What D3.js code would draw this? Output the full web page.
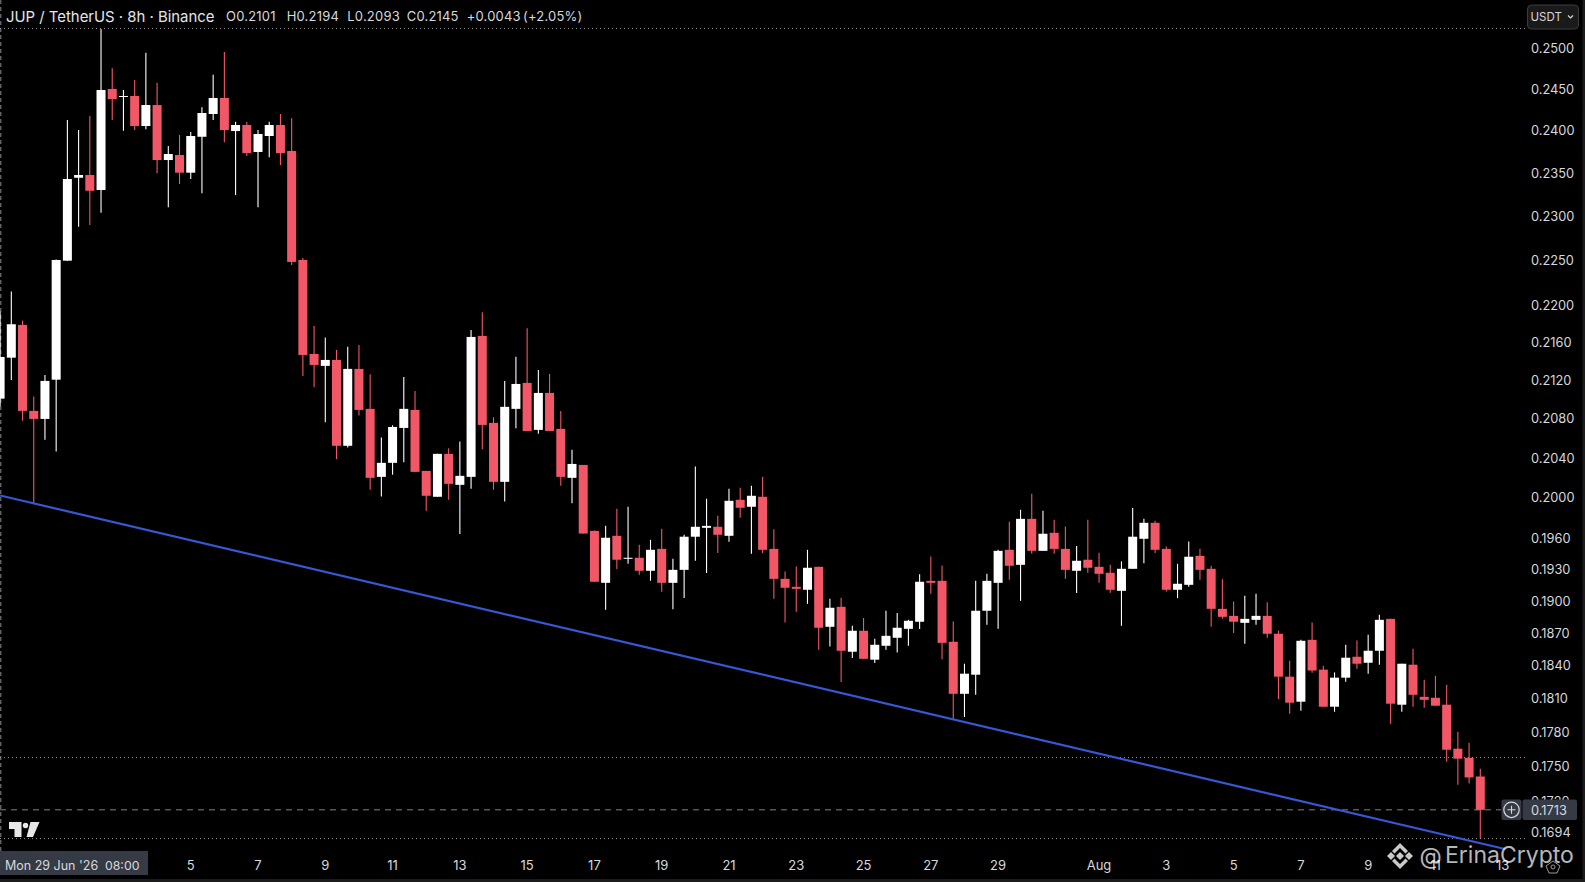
<!DOCTYPE html>
<html>
<head>
<meta charset="utf-8">
<title>JUP / TetherUS 8h</title>
<script src="https://cdn.jsdelivr.net/npm/d3@7"></script>
<style>
	html, body { margin: 0; padding: 0; background: #000; overflow: hidden; }
	svg { display: block; }
	text { font-family: Inter, Roboto, sans-serif; }
</style>
</head>
<body>
<div class="svg-container"></div>
<script>
(function () {

	"use strict";

	// candles, one per 8h
	var opens = [
		0.2101, 0.21442, 0.21794, 0.20883, 0.208, 0.21209, 0.225, 0.23446, 0.23478, 0.23304,
		0.24502, 0.24405, 0.24417, 0.24056, 0.24308, 0.23653, 0.23712, 0.23505, 0.23928, 0.242,
		0.24393, 0.23996, 0.24068, 0.23748, 0.23937, 0.24068, 0.2376, 0.22508, 0.21482, 0.21355,
		0.21418, 0.20524, 0.21323, 0.20904, 0.2021, 0.20351, 0.20707, 0.20893, 0.2027, 0.20011,
		0.20442, 0.2013, 0.2021, 0.21675, 0.20759, 0.2016, 0.20904, 0.21175, 0.20687, 0.2107,
		0.20697, 0.202, 0.2033, 0.19675, 0.19174, 0.19627, 0.19404, 0.19414, 0.19289, 0.195,
		0.19174, 0.19298, 0.19618, 0.19705, 0.19715, 0.19627, 0.19981, 0.19912, 0.20011, 0.195,
		0.19212, 0.19136, 0.19108, 0.19327, 0.1876, 0.18947, 0.18529, 0.18723, 0.18456, 0.18584,
		0.18658, 0.18741, 0.18807, 0.19193, 0.19193, 0.18621, 0.18146, 0.18319, 0.1891, 0.19174,
		0.19491, 0.19346, 0.19793, 0.19481, 0.19656, 0.195, 0.19289, 0.19395, 0.19327, 0.1927,
		0.19098, 0.19308, 0.19598, 0.19754, 0.195, 0.19108, 0.19155, 0.19433, 0.19308, 0.18928,
		0.18862, 0.18797, 0.18825, 0.18862, 0.18695, 0.18301, 0.18075, 0.18639, 0.18365, 0.1803,
		0.18292, 0.18483, 0.18428, 0.18538, 0.18834, 0.18048, 0.1841, 0.18119, 0.1811, 0.18048,
		0.17658, 0.17579, 0.17416
	];
	var highs = [
		0.2194, 0.22157, 0.2184, 0.21032, 0.21259, 0.22514, 0.24128, 0.24008, 0.24176, 0.25244,
		0.24755, 0.2449, 0.24612, 0.24948, 0.24579, 0.23819, 0.23949, 0.23984, 0.2428, 0.24676,
		0.24957, 0.24108, 0.24104, 0.24008, 0.24108, 0.242, 0.24148, 0.22531, 0.21783, 0.21657,
		0.21525, 0.2156, 0.21578, 0.21267, 0.20608, 0.20735, 0.21238, 0.21091, 0.2027, 0.20442,
		0.205, 0.20567, 0.2174, 0.21932, 0.20817, 0.21196, 0.21453, 0.21758, 0.21312, 0.2127,
		0.20883, 0.20483, 0.2033, 0.19678, 0.19724, 0.19892, 0.19912, 0.19539, 0.19588, 0.19695,
		0.19404, 0.19637, 0.20313, 0.19991, 0.19823, 0.2009, 0.201, 0.2012, 0.2021, 0.19692,
		0.19282, 0.1933, 0.19491, 0.19327, 0.19022, 0.19032, 0.18769, 0.18841, 0.18648, 0.1891,
		0.18888, 0.18825, 0.19257, 0.19426, 0.1934, 0.18809, 0.18419, 0.19193, 0.1926, 0.19491,
		0.19764, 0.19882, 0.2004, 0.19872, 0.19783, 0.19718, 0.19529, 0.19783, 0.19462, 0.19346,
		0.19379, 0.19899, 0.19793, 0.19774, 0.19523, 0.19356, 0.19572, 0.195, 0.19337, 0.19209,
		0.18997, 0.19051, 0.1907, 0.18991, 0.18725, 0.18446, 0.18639, 0.188, 0.18401, 0.1834,
		0.18593, 0.18633, 0.18686, 0.18872, 0.18834, 0.18419, 0.18556, 0.18273, 0.1831, 0.18228,
		0.17808, 0.17711, 0.17484
	];
	var lows = [
		0.2093, 0.21206, 0.20782, 0.19948, 0.20585, 0.20465, 0.22497, 0.22883, 0.22902, 0.23043,
		0.24128, 0.24, 0.24008, 0.24016, 0.23498, 0.23105, 0.23373, 0.23431, 0.23265, 0.24128,
		0.23862, 0.23246, 0.23701, 0.23105, 0.23685, 0.23595, 0.22452, 0.21249, 0.2113, 0.20766,
		0.20388, 0.20506, 0.20834, 0.2008, 0.20014, 0.2023, 0.20358, 0.2026, 0.19872, 0.20011,
		0.19981, 0.19644, 0.2009, 0.2049, 0.2008, 0.19964, 0.20704, 0.20676, 0.20646, 0.20676,
		0.2012, 0.19948, 0.19649, 0.19184, 0.18919, 0.19305, 0.19356, 0.19251, 0.19193, 0.19089,
		0.18925, 0.19029, 0.19385, 0.19267, 0.19459, 0.19569, 0.19803, 0.19452, 0.19459, 0.19022,
		0.188, 0.189, 0.18975, 0.18547, 0.18578, 0.18252, 0.18471, 0.18464, 0.18426, 0.18547,
		0.18522, 0.18584, 0.18739, 0.1907, 0.18461, 0.1792, 0.17938, 0.18137, 0.18778, 0.18741,
		0.19203, 0.19003, 0.19452, 0.19481, 0.19452, 0.19212, 0.19077, 0.1927, 0.19174, 0.19079,
		0.18769, 0.19308, 0.19362, 0.19459, 0.19092, 0.19029, 0.19136, 0.19203, 0.1876, 0.18834,
		0.18702, 0.18602, 0.18778, 0.18658, 0.18099, 0.17967, 0.17994, 0.18336, 0.1803, 0.17985,
		0.18255, 0.18373, 0.18328, 0.1841, 0.17878, 0.17985, 0.1803, 0.18021, 0.18039, 0.17545,
		0.17345, 0.17355, 0.16887
	];
	var closes = [
		0.2145, 0.21801, 0.20883, 0.208, 0.21196, 0.22508, 0.23431, 0.23478, 0.23295, 0.2449,
		0.24381, 0.24417, 0.24056, 0.24308, 0.23653, 0.23724, 0.23505, 0.23937, 0.24212, 0.24393,
		0.24008, 0.24068, 0.23736, 0.23961, 0.24068, 0.23736, 0.22486, 0.21471, 0.21365, 0.21418,
		0.20524, 0.21323, 0.20893, 0.202, 0.20351, 0.20717, 0.20904, 0.2026, 0.20021, 0.20442,
		0.2014, 0.2022, 0.21664, 0.20738, 0.2016, 0.20925, 0.21164, 0.20676, 0.2107, 0.20676,
		0.2021, 0.2034, 0.19649, 0.19184, 0.19608, 0.19395, 0.19414, 0.19289, 0.19491, 0.19174,
		0.19298, 0.19618, 0.19715, 0.19724, 0.19637, 0.19971, 0.19902, 0.20021, 0.19491, 0.19212,
		0.19127, 0.19117, 0.19318, 0.18751, 0.18938, 0.18538, 0.18723, 0.18464, 0.18593, 0.18676,
		0.18751, 0.18816, 0.19184, 0.19174, 0.18611, 0.18146, 0.18328, 0.1891, 0.19193, 0.19481,
		0.19337, 0.19793, 0.19481, 0.19647, 0.195, 0.19298, 0.19385, 0.19318, 0.1926, 0.19108,
		0.19308, 0.19618, 0.19754, 0.19491, 0.19108, 0.19165, 0.19424, 0.19298, 0.18928, 0.18853,
		0.18807, 0.18834, 0.18862, 0.18695, 0.18301, 0.18066, 0.1863, 0.18357, 0.1803, 0.18292,
		0.18474, 0.18419, 0.18538, 0.18825, 0.18057, 0.18419, 0.18137, 0.18092, 0.18039, 0.17649,
		0.17571, 0.17408, 0.1713
	];

	// axis labels
	var price_ticks = [0.25, 0.245, 0.24, 0.235, 0.23, 0.225, 0.22, 0.216, 0.212, 0.208, 0.204, 0.2, 0.196,
		0.193, 0.19, 0.187, 0.184, 0.181, 0.178, 0.175, 0.172, 0.1694];
	var date_labels = ["5", "7", "9", "11", "13", "15", "17", "19", "21", "23", "25", "27", "29", "Aug", "3", "5", "7", "9", "11", "13"];
	var date_indexes = [17, 23, 29, 35, 41, 47, 53, 59, 65, 71, 77, 83, 89, 98, 104, 110, 116, 122, 128, 134];

	// header values
	var ohlc_labels = ["O0.2101", "H0.2194", "L0.2093", "C0.2145", "+0.0043", "(+2.05%)"],
		ohlc_left = [226, 286.7, 347.3, 406.7, 466.7, 523];

	// drawn on the chart
	var trend_indexes = [0, 134.2],
		trend_prices = [0.20024, 0.168],
		level_prices = [0.2525, 0.1758, 0.16887],
		last_price = 0.1713;

	var chart_width = 1585,
		chart_height = 882;

	var x = d3.scaleLinear().domain([0, 132]).range([0.1, 1480.3]),
		y = d3.scaleLog().domain([0.25, 0.1694]).range([48.5, 832.3]);

	var up_color = "#ffffff",
		down_color = "#f25767",
		text_color = "#d6d8de",
		label_bg = "#363a45",
		body_width = 9;

	var svg = d3.select(".svg-container").append("svg")
		.attr("width", chart_width)
		.attr("height", chart_height);

	svg.append("rect")
		.attr("width", chart_width)
		.attr("height", chart_height)
		.attr("fill", "#000");

	// crosshair on the left edge
	svg.append("line")
		.attr("x1", 0.8).attr("x2", 0.8)
		.attr("y1", 0).attr("y2", 851)
		.attr("stroke", "#8a8d94")
		.attr("stroke-dasharray", "4,3");

	svg.selectAll(".level")
		.data(level_prices)
		.enter()
		.append("line")
		.attr("class", "level")
		.attr("x1", 0)
		.attr("x2", 1525)
		.attr("y1", function (d) { return y(d); })
		.attr("y2", function (d) { return y(d); })
		.attr("stroke", "#9a9a9a")
		.attr("stroke-dasharray", "1,3");

	// last price line
	svg.append("line")
		.attr("x1", 0)
		.attr("x2", 1501)
		.attr("y1", y(last_price))
		.attr("y2", y(last_price))
		.attr("stroke", "#808080")
		.attr("stroke-dasharray", "6,5");

	var candles = svg.selectAll(".candle")
		.data(d3.range(opens.length))
		.enter()
		.append("g")
		.attr("class", "candle")
		.attr("fill", function (i) { return closes[i] >= opens[i] ? up_color : down_color; })
		.attr("stroke", function (i) { return closes[i] >= opens[i] ? up_color : down_color; });

	candles.append("line")
		.attr("x1", function (i) { return x(i); })
		.attr("x2", function (i) { return x(i); })
		.attr("y1", function (i) { return y(highs[i]); })
		.attr("y2", function (i) { return y(lows[i]); })
		.attr("stroke-width", 1.1);

	candles.append("rect")
		.attr("x", function (i) { return x(i) - body_width / 2; })
		.attr("y", function (i) { return y(Math.max(opens[i], closes[i])); })
		.attr("width", body_width)
		.attr("height", function (i) { return Math.max(1, Math.abs(y(opens[i]) - y(closes[i]))); })
		.attr("stroke", "none");

	// trend line
	svg.append("line")
		.attr("x1", x(trend_indexes[0]))
		.attr("x2", x(trend_indexes[1]))
		.attr("y1", y(trend_prices[0]))
		.attr("y2", y(trend_prices[1]))
		.attr("stroke", "#3558d4")
		.attr("stroke-width", 2.2);

	// price axis
	svg.selectAll(".price")
		.data(price_ticks)
		.enter()
		.append("text")
		.attr("class", "price")
		.attr("x", 1531)
		.attr("y", function (d) { return y(d) + 4.5; })
		.attr("fill", text_color)
		.attr("font-size", 12.8)
		.text(function (d) { return d.toFixed(4); });

	// date axis
	svg.selectAll(".date")
		.data(date_labels)
		.enter()
		.append("text")
		.attr("class", "date")
		.attr("x", function (d, i) { return x(date_indexes[i]); })
		.attr("y", 870)
		.attr("text-anchor", "middle")
		.attr("fill", text_color)
		.attr("font-size", 13)
		.text(function (d) { return d; });

	// crosshair date label
	svg.append("rect")
		.attr("x", 0).attr("y", 851)
		.attr("width", 148).attr("height", 24)
		.attr("fill", label_bg);
	svg.append("text")
		.attr("x", 5).attr("y", 870)
		.attr("fill", text_color)
		.attr("font-size", 12.5)
		.text("Mon 29 Jun '26");
	svg.append("text")
		.attr("x", 105).attr("y", 870)
		.attr("fill", text_color)
		.attr("font-size", 12.3)
		.text("08:00");

	// last price label
	svg.append("rect")
		.attr("x", 1501.5).attr("y", 799.5)
		.attr("width", 20).attr("height", 20.5)
		.attr("rx", 2)
		.attr("fill", label_bg);
	svg.append("rect")
		.attr("x", 1522.5).attr("y", 799.5)
		.attr("width", 54.5).attr("height", 20.5)
		.attr("rx", 2)
		.attr("fill", label_bg);
	svg.append("circle")
		.attr("cx", 1511.5).attr("cy", y(last_price)).attr("r", 7.7)
		.attr("fill", "none").attr("stroke", text_color).attr("stroke-width", 1.2);
	svg.append("path")
		.attr("d", "M1507.5,809.7H1515.5M1511.5,805.7V813.7")
		.attr("stroke", text_color).attr("stroke-width", 1.1);
	svg.append("text")
		.attr("x", 1531).attr("y", y(last_price) + 4.7)
		.attr("fill", text_color)
		.attr("font-size", 12.8)
		.text(last_price.toFixed(4));

	// legend
	svg.append("text")
		.attr("x", 6).attr("y", 21.5)
		.attr("fill", "#e4e5e9")
		.attr("font-size", 14.9)
		.text("JUP / TetherUS · 8h · Binance");
	svg.selectAll(".ohlc")
		.data(ohlc_labels)
		.enter()
		.append("text")
		.attr("class", "ohlc")
		.attr("x", function (d, i) { return ohlc_left[i]; })
		.attr("y", 21)
		.attr("fill", "#d6d8de")
		.attr("font-size", 13)
		.attr("letter-spacing", 0.2)
		.text(function (d) { return d; });

	// currency button
	svg.append("rect")
		.attr("x", 1527.5).attr("y", 5)
		.attr("width", 51).attr("height", 24)
		.attr("rx", 4)
		.attr("fill", "#1a1a1a")
		.attr("stroke", "#3c3c3c");
	svg.append("text")
		.attr("x", 1530.5).attr("y", 21)
		.attr("fill", text_color)
		.attr("font-size", 11.5)
		.text("USDT");
	svg.append("path")
		.attr("d", "M1568,15.5l2.5,2.5l2.5,-2.5")
		.attr("fill", "none")
		.attr("stroke", text_color)
		.attr("stroke-width", 1.2);

	// tradingview mark
	svg.append("path")
		.attr("d", "M9,822H21.5V837H14.5V829H9ZM30.5,822H39.5L33,837H26.5Z")
		.attr("fill", "#e8e8e8");
	svg.append("circle")
		.attr("cx", 25.5).attr("cy", 825.5).attr("r", 2.7)
		.attr("fill", "#e8e8e8");

	// settings icon
	svg.append("path")
		.attr("d", "M1546,866L1553,861L1560,866L1557,873H1549Z")
		.attr("fill", "none")
		.attr("stroke", "#9a9a9a");
	svg.append("circle")
		.attr("cx", 1553).attr("cy", 867).attr("r", 2)
		.attr("fill", "none")
		.attr("stroke", "#9a9a9a");

	// window edge
	svg.append("rect")
		.attr("x", 0).attr("y", 879)
		.attr("width", chart_width).attr("height", 3)
		.attr("fill", "#1c1c1c");
	svg.append("rect")
		.attr("x", 1582.5).attr("y", 0)
		.attr("width", 2.5).attr("height", chart_height)
		.attr("fill", "#1c1c1c");

	// watermark
	var mark = svg.append("g")
		.attr("transform", "translate(1400,856)")
		.attr("fill", "#c9c9c9");
	mark.append("path")
		.attr("d", "M0,-4L4,0L0,4L-4,0Z M-9,-4L-5,0L-9,4L-13,0Z M9,-4L13,0L9,4L5,0Z " +
			"M0,-13L8,-5L5.5,-2.5L0,-8L-5.5,-2.5L-8,-5Z M0,13L8,5L5.5,2.5L0,8L-5.5,2.5L-8,5Z");
	svg.append("text")
		.attr("x", 1419.5).attr("y", 864)
		.attr("fill", "#ffffff")
		.attr("fill-opacity", 0.72)
		.attr("font-size", 23)
		.text("@");
	svg.append("text")
		.attr("x", 1445).attr("y", 862.8)
		.attr("fill", "#ffffff")
		.attr("fill-opacity", 0.72)
		.attr("font-size", 23)
		.text("ErinaCrypto");

})();
</script>
</body>
</html>
